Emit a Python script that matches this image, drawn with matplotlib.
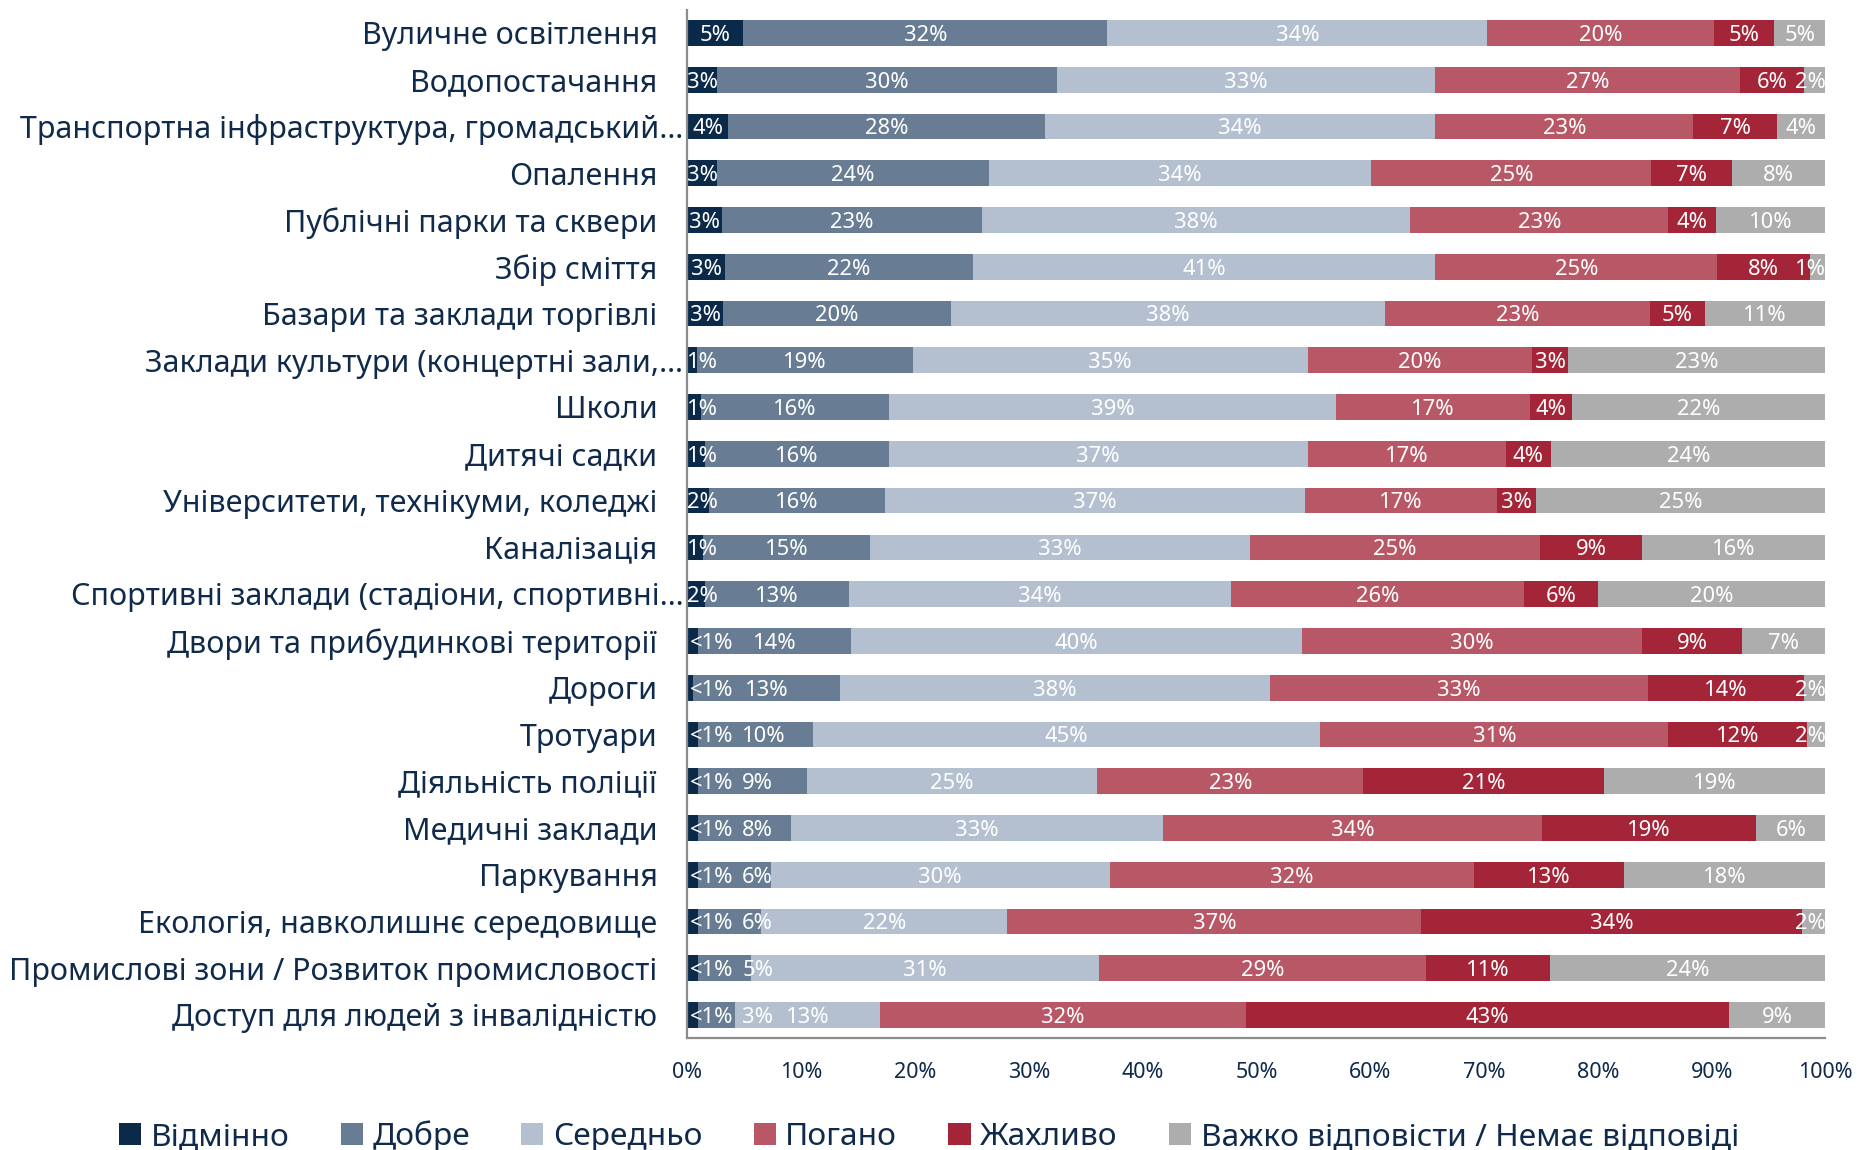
import matplotlib
matplotlib.use("Agg")
import matplotlib.pyplot as plt
from matplotlib.patches import Patch
from matplotlib.transforms import ScaledTranslation
import numpy as np

plt.rcParams['font.family'] = ['Noto Sans', 'DejaVu Sans']

categories = [
    "Вуличне освітлення",
    "Водопостачання",
    "Транспортна інфраструктура, громадський…",
    "Опалення",
    "Публічні парки та сквери",
    "Збір сміття",
    "Базари та заклади торгівлі",
    "Заклади культури (концертні зали,…",
    "Школи",
    "Дитячі садки",
    "Університети, технікуми, коледжі",
    "Каналізація",
    "Спортивні заклади (стадіони, спортивні…",
    "Двори та прибудинкові території",
    "Дороги",
    "Тротуари",
    "Діяльність поліції",
    "Медичні заклади",
    "Паркування",
    "Екологія, навколишнє середовище",
    "Промислові зони / Розвиток промисловості",
    "Доступ для людей з інвалідністю",
]

series_names = ["Відмінно", "Добре", "Середньо", "Погано", "Жахливо",
                "Важко відповісти / Немає відповіді"]

excellent = [4.9, 2.6, 3.6, 2.6, 3.0, 3.3, 3.1, 0.8, 1.2, 1.5, 1.85, 1.4, 1.5,
             0.9, 0.5, 0.9, 0.9, 0.9, 0.9, 0.9, 0.9, 0.9]
good = [32.0, 29.9, 27.8, 23.9, 22.9, 21.8, 20.1, 19.0, 16.5, 16.2, 15.5, 14.6,
        12.7, 13.5, 12.9, 10.1, 9.6, 8.2, 6.4, 5.6, 4.7, 3.3]
average = [33.4, 33.2, 34.3, 33.6, 37.6, 40.6, 38.1, 34.7, 39.3, 36.8, 36.9,
           33.4, 33.6, 39.6, 37.8, 44.6, 25.5, 32.7, 29.8, 21.6, 30.6, 12.7]
bad = [19.9, 26.8, 22.7, 24.6, 22.7, 24.8, 23.3, 19.7, 17.0, 17.4, 16.9, 25.5,
       25.7, 29.9, 33.2, 30.6, 23.4, 33.3, 32.0, 36.4, 28.7, 32.2]
terrible = [5.3, 5.6, 7.3, 7.1, 4.2, 8.1, 4.8, 3.2, 3.7, 4.0, 3.4, 9.0, 6.5,
            8.8, 13.7, 12.2, 21.1, 18.8, 13.2, 33.4, 10.9, 42.4]
hard = [4.5, 1.9, 4.3, 8.2, 9.6, 1.4, 10.6, 22.6, 22.3, 24.1, 25.45, 16.1,
        20.0, 7.3, 1.9, 1.6, 19.5, 6.1, 17.7, 2.1, 24.2, 8.5]

lab_excellent = ["5%", "3%", "4%", "3%", "3%", "3%", "3%", "1%", "1%", "1%", "2%",
                 "1%", "2%", "<1%", "<1%", "<1%", "<1%", "<1%", "<1%", "<1%",
                 "<1%", "<1%"]
lab_good = ["32%", "30%", "28%", "24%", "23%", "22%", "20%", "19%", "16%", "16%",
            "16%", "15%", "13%", "14%", "13%", "10%", "9%", "8%", "6%", "6%",
            "5%", "3%"]
lab_average = ["34%", "33%", "34%", "34%", "38%", "41%", "38%", "35%", "39%",
               "37%", "37%", "33%", "34%", "40%", "38%", "45%", "25%", "33%",
               "30%", "22%", "31%", "13%"]
lab_bad = ["20%", "27%", "23%", "25%", "23%", "25%", "23%", "20%", "17%", "17%",
           "17%", "25%", "26%", "30%", "33%", "31%", "23%", "34%", "32%", "37%",
           "29%", "32%"]
lab_terrible = ["5%", "6%", "7%", "7%", "4%", "8%", "5%", "3%", "4%", "4%", "3%",
                "9%", "6%", "9%", "14%", "12%", "21%", "19%", "13%", "34%", "11%",
                "43%"]
lab_hard = ["5%", "2%", "4%", "8%", "10%", "1%", "11%", "23%", "22%", "24%", "25%",
            "16%", "20%", "7%", "2%", "2%", "19%", "6%", "18%", "2%", "24%", "9%"]

xticks = [0, 10, 20, 30, 40, 50, 60, 70, 80, 90, 100]
xtick_labels = ["0%", "10%", "20%", "30%", "40%", "50%", "60%", "70%", "80%",
                "90%", "100%"]

colors = ["#0b2a4a", "#687d93", "#b4c0d0", "#b85766", "#a42537", "#adadad"]
text_color = "#0f2a4a"

data = [excellent, good, average, bad, terrible, hard]
labels = [lab_excellent, lab_good, lab_average, lab_bad, lab_terrible, lab_hard]

fig = plt.figure(figsize=(18.58, 11.5), dpi=100)
ax = fig.add_axes([0.370, 0.097, 0.6125, 0.8947])

y = np.arange(len(categories))
left = np.zeros(len(categories))
row_texts = [[] for _ in categories]
for vals, labs, col in zip(data, labels, colors):
    vals = np.array(vals)
    ax.barh(y, vals, left=left, height=0.55, color=col, edgecolor='none')
    for i in range(len(categories)):
        c = left[i] + vals[i] / 2
        t = ax.text(c, y[i] + 0.05, labs[i], ha='center', va='center',
                    color='white', fontsize=15.8)
        row_texts[i].append((t, c, labs[i]))
    left = left + vals

ax.set_xlim(0, 100)
ax.set_ylim(len(categories) - 0.5, -0.5)
ax.set_yticks([])
ax.set_xticks(xticks)
ax.set_xticklabels(xtick_labels)
ax.tick_params(axis='x', length=0, pad=17, labelsize=15.5, labelcolor=text_color)
for s in ['top', 'right']:
    ax.spines[s].set_visible(False)
for s in ['left', 'bottom']:
    ax.spines[s].set_color('#8c8c8c')
    ax.spines[s].set_linewidth(1.6)

# category labels
ytrans = ax.get_yaxis_transform()
for i, cat in enumerate(categories):
    dx = -4 if cat.endswith("…") else -30
    tr = ytrans + ScaledTranslation(dx / 100, 0, fig.dpi_scale_trans)
    ax.text(0, y[i] + 0.07, cat, ha='right', va='center', fontsize=21.9,
            color=text_color, transform=tr)

# adjust label positions to stay inside the plot and avoid overlaps
fig.canvas.draw()
renderer = fig.canvas.get_renderer()
px_per_unit = ax.transData.transform((1, 0))[0] - ax.transData.transform((0, 0))[0]
gap = 9 / px_per_unit
for i in range(len(categories)):
    prev_right = None
    for t, c, lab in row_texts[i]:
        w = t.get_window_extent(renderer).width / px_per_unit
        if lab.startswith("<"):
            lft = 0.2
        else:
            lft = c - w / 2
            if lft < 0:
                lft = 0.0
            if prev_right is not None and lft < prev_right + gap and prev_right < 5:
                lft = prev_right + gap
        if lft + w > 100:
            lft = 100 - w
        t.set_x(lft + w / 2)
        prev_right = lft + w

handles = [Patch(facecolor=c, edgecolor='none') for c in colors]
leg = fig.legend(handles, series_names, loc='center', bbox_to_anchor=(0.5, 0.012),
                 ncol=6, frameon=False, fontsize=22.8, handlelength=0.7,
                 handleheight=0.7, handletextpad=0.3, columnspacing=1.62)
for txt in leg.get_texts():
    txt.set_color(text_color)

fig.savefig("out.png", dpi=100)
